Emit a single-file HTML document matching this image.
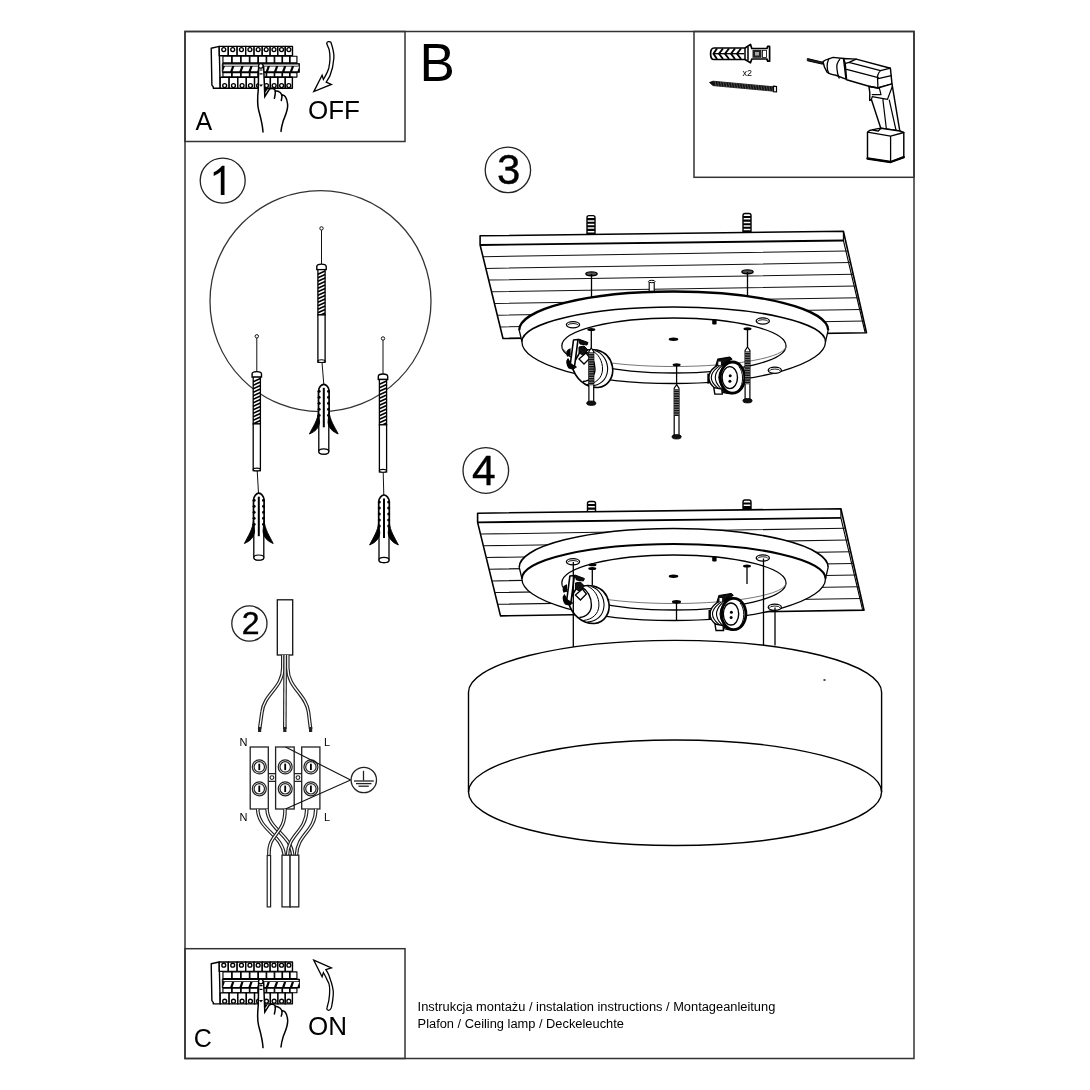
<!DOCTYPE html>
<html><head><meta charset="utf-8">
<style>
html,body{margin:0;padding:0;background:#fff;}
body{width:1090px;height:1090px;overflow:hidden;}
svg{display:block;will-change:transform;}
text{font-family:"Liberation Sans",sans-serif;fill:#000;}
</style></head><body>
<svg width="1090" height="1090" viewBox="0 0 1090 1090">
<rect width="1090" height="1090" fill="#fff"/>
<g fill="none" stroke="#333" stroke-width="1.5">
<rect x="185" y="31.5" width="729" height="1027"/>
<rect x="185" y="31.5" width="220" height="110"/>
<rect x="185" y="948.7" width="220" height="109.8"/>
<rect x="694" y="31.5" width="220" height="145.8"/>
</g>
<text x="419.4" y="80.8" font-size="53">B</text>
<text x="195.5" y="129.9" font-size="25">A</text>
<text x="308" y="118.6" font-size="26">OFF</text>
<text x="193.8" y="1046.7" font-size="25">C</text>
<text x="308" y="1035" font-size="26">ON</text>
<text x="417.6" y="1010.7" font-size="12.85">Instrukcja montażu / instalation instructions / Montageanleitung</text>
<text x="417.6" y="1027.7" font-size="12.85">Plafon / Ceiling lamp / Deckeleuchte</text>
<text x="742.5" y="76" font-size="9" fill="#222">x2</text>
<g fill="none" stroke="#222" stroke-width="1.3">
<circle cx="222.7" cy="180.6" r="22.5"/>
<circle cx="249.4" cy="623.5" r="17.6"/>
<circle cx="507.9" cy="169.9" r="22.7"/>
<circle cx="485.8" cy="470.5" r="22.8"/>
</g>
<path d="M224.5,194.9 L220.8,194.9 L220.8,171.6 C218.8,173.6 216.2,175.1 213.7,176 L213.7,172.3 C217.2,170.8 220.3,168.2 222,165.8 L224.5,165.8 Z" fill="#000"/>
<text x="250.6" y="633.9" font-size="32" text-anchor="middle" stroke="#000" stroke-width="0.4">2</text>
<text x="508.7" y="184.2" font-size="42" text-anchor="middle" stroke="#000" stroke-width="0.4">3</text>
<text x="483.7" y="484.6" font-size="42.5" text-anchor="middle" stroke="#000" stroke-width="0.4">4</text>
<circle cx="320.5" cy="301.2" r="110.5" fill="none" stroke="#333" stroke-width="1.3"/>
<circle cx="321.5" cy="228.4" r="1.7" fill="#fff" stroke="#111" stroke-width="1"/>
<line x1="321.5" y1="230.1" x2="321.5" y2="264.1" stroke="#111" stroke-width="1"/>
<path d="M316.8,269.6 L316.8,266.6 Q316.8,264.1 321.5,264.1 Q326.2,264.1 326.2,266.6 L326.2,269.6 Z" fill="#fff" stroke="#000" stroke-width="1.4"/>
<rect x="317.9" y="269.6" width="7.2" height="45.3" fill="#fff" stroke="#000" stroke-width="1.3"/>
<path d="M317.9,274.3 L325.1,271.1 M317.9,277.8 L325.1,274.6 M317.9,281.3 L325.1,278.1 M317.9,284.8 L325.1,281.6 M317.9,288.3 L325.1,285.1 M317.9,291.8 L325.1,288.6 M317.9,295.3 L325.1,292.1 M317.9,298.8 L325.1,295.6 M317.9,302.3 L325.1,299.1 M317.9,305.8 L325.1,302.6 M317.9,309.3 L325.1,306.1 M317.9,312.8 L325.1,309.6 M317.9,316.3 L325.1,313.1" stroke="#000" stroke-width="1.6" fill="none"/>
<rect x="317.9" y="314.9" width="7.2" height="47.4" fill="#fff" stroke="#000" stroke-width="1.3"/>
<ellipse cx="321.5" cy="361.1" rx="3.6" ry="1.4" fill="#fff" stroke="#000" stroke-width="1.1"/>
<line x1="322" y1="362.3" x2="323.8" y2="384.3" stroke="#111" stroke-width="1"/>
<path d="M318.8,420 L318.8,451.5 A5,2.6 0 0 0 328.8,451.5 L328.8,420" fill="#fff" stroke="#000" stroke-width="1.3"/>
<ellipse cx="323.8" cy="451.5" rx="5" ry="2.6" fill="#fff" stroke="#000" stroke-width="1.2"/>
<path d="M318.5,419.3 L318.5,391.3 C318.5,387.3 321.6,384.3 323.8,384.3 C326,384.3 329.1,387.3 329.1,391.3 L329.1,419.3 Z" fill="#fff" stroke="none"/>
<path d="M318.5,419.3 L318.5,391.3 C318.5,387.3 321.6,384.3 323.8,384.3 C326,384.3 329.1,387.3 329.1,391.3 L329.1,419.3" fill="none" stroke="#000" stroke-width="1.7"/>
<path d="M318.5,411.3 C317.9,420.3 312.8,427 309.4,434 C315.3,431.5 319,428 319.6,422.3 Z" fill="#000" stroke="#000" stroke-width="0.9" stroke-linejoin="round"/>
<path d="M329.1,411.3 C329.7,420.3 334.8,427 338.2,434 C332.3,431.5 328.6,428 328,422.3 Z" fill="#000" stroke="#000" stroke-width="0.9" stroke-linejoin="round"/>
<g fill="#000"><circle cx="319.1" cy="391.3" r="1.5"/><circle cx="328.5" cy="391.3" r="1.5"/><circle cx="319.1" cy="397.3" r="1.5"/><circle cx="328.5" cy="397.3" r="1.5"/><circle cx="319.1" cy="403.3" r="1.5"/><circle cx="328.5" cy="403.3" r="1.5"/><circle cx="319.1" cy="409.3" r="1.5"/><circle cx="328.5" cy="409.3" r="1.5"/><circle cx="319.1" cy="415.3" r="1.5"/><circle cx="328.5" cy="415.3" r="1.5"/></g>
<line x1="323.8" y1="387.8" x2="323.8" y2="427.3" stroke="#000" stroke-width="2"/>
<circle cx="256.8" cy="336.3" r="1.7" fill="#fff" stroke="#111" stroke-width="1"/>
<line x1="256.8" y1="338" x2="256.8" y2="371.6" stroke="#111" stroke-width="1"/>
<path d="M252.1,377.1 L252.1,374.1 Q252.1,371.6 256.8,371.6 Q261.5,371.6 261.5,374.1 L261.5,377.1 Z" fill="#fff" stroke="#000" stroke-width="1.4"/>
<rect x="253.2" y="377.1" width="7.2" height="46.8" fill="#fff" stroke="#000" stroke-width="1.3"/>
<path d="M253.2,381.8 L260.4,378.6 M253.2,385.3 L260.4,382.1 M253.2,388.8 L260.4,385.6 M253.2,392.3 L260.4,389.1 M253.2,395.8 L260.4,392.6 M253.2,399.3 L260.4,396.1 M253.2,402.8 L260.4,399.6 M253.2,406.3 L260.4,403.1 M253.2,409.8 L260.4,406.6 M253.2,413.3 L260.4,410.1 M253.2,416.8 L260.4,413.6 M253.2,420.3 L260.4,417.1 M253.2,423.8 L260.4,420.6" stroke="#000" stroke-width="1.6" fill="none"/>
<rect x="253.2" y="423.9" width="7.2" height="46.8" fill="#fff" stroke="#000" stroke-width="1.3"/>
<ellipse cx="256.8" cy="469.5" rx="3.6" ry="1.4" fill="#fff" stroke="#000" stroke-width="1.1"/>
<line x1="257.2" y1="470.7" x2="258.5" y2="493.2" stroke="#111" stroke-width="1"/>
<path d="M253.8,529.5 L253.8,557.6 A5,2.6 0 0 0 263.8,557.6 L263.8,529.5" fill="#fff" stroke="#000" stroke-width="1.3"/>
<ellipse cx="258.8" cy="557.6" rx="5" ry="2.6" fill="#fff" stroke="#000" stroke-width="1.2"/>
<path d="M253.5,528.2 L253.5,500.2 C253.5,496.2 256.6,493.2 258.8,493.2 C261,493.2 264.1,496.2 264.1,500.2 L264.1,528.2 Z" fill="#fff" stroke="none"/>
<path d="M253.5,528.2 L253.5,500.2 C253.5,496.2 256.6,493.2 258.8,493.2 C261,493.2 264.1,496.2 264.1,500.2 L264.1,528.2" fill="none" stroke="#000" stroke-width="1.7"/>
<path d="M253.5,520.2 C252.9,529.2 247.8,536.5 244.4,543.5 C250.3,541 254,537.5 254.6,531.2 Z" fill="#000" stroke="#000" stroke-width="0.9" stroke-linejoin="round"/>
<path d="M264.1,520.2 C264.7,529.2 269.8,536.5 273.2,543.5 C267.3,541 263.6,537.5 263,531.2 Z" fill="#000" stroke="#000" stroke-width="0.9" stroke-linejoin="round"/>
<g fill="#000"><circle cx="254.1" cy="500.2" r="1.5"/><circle cx="263.5" cy="500.2" r="1.5"/><circle cx="254.1" cy="506.2" r="1.5"/><circle cx="263.5" cy="506.2" r="1.5"/><circle cx="254.1" cy="512.2" r="1.5"/><circle cx="263.5" cy="512.2" r="1.5"/><circle cx="254.1" cy="518.2" r="1.5"/><circle cx="263.5" cy="518.2" r="1.5"/><circle cx="254.1" cy="524.2" r="1.5"/><circle cx="263.5" cy="524.2" r="1.5"/></g>
<line x1="258.8" y1="496.7" x2="258.8" y2="536.2" stroke="#000" stroke-width="2"/>
<circle cx="383" cy="338.5" r="1.7" fill="#fff" stroke="#111" stroke-width="1"/>
<line x1="383" y1="340.2" x2="383" y2="374" stroke="#111" stroke-width="1"/>
<path d="M378.3,379.5 L378.3,376.5 Q378.3,374 383,374 Q387.7,374 387.7,376.5 L387.7,379.5 Z" fill="#fff" stroke="#000" stroke-width="1.4"/>
<rect x="379.4" y="379.5" width="7.2" height="45.3" fill="#fff" stroke="#000" stroke-width="1.3"/>
<path d="M379.4,384.2 L386.6,381 M379.4,387.7 L386.6,384.5 M379.4,391.2 L386.6,388 M379.4,394.7 L386.6,391.5 M379.4,398.2 L386.6,395 M379.4,401.7 L386.6,398.5 M379.4,405.2 L386.6,402 M379.4,408.7 L386.6,405.5 M379.4,412.2 L386.6,409 M379.4,415.7 L386.6,412.5 M379.4,419.2 L386.6,416 M379.4,422.7 L386.6,419.5 M379.4,426.2 L386.6,423" stroke="#000" stroke-width="1.6" fill="none"/>
<rect x="379.4" y="424.8" width="7.2" height="47.2" fill="#fff" stroke="#000" stroke-width="1.3"/>
<ellipse cx="383" cy="470.8" rx="3.6" ry="1.4" fill="#fff" stroke="#000" stroke-width="1.1"/>
<line x1="383.2" y1="472" x2="383.8" y2="495" stroke="#111" stroke-width="1"/>
<path d="M379,531 L379,560 A5,2.6 0 0 0 389,560 L389,531" fill="#fff" stroke="#000" stroke-width="1.3"/>
<ellipse cx="384" cy="560" rx="5" ry="2.6" fill="#fff" stroke="#000" stroke-width="1.2"/>
<path d="M378.7,530 L378.7,502 C378.7,498 381.8,495 384,495 C386.2,495 389.3,498 389.3,502 L389.3,530 Z" fill="#fff" stroke="none"/>
<path d="M378.7,530 L378.7,502 C378.7,498 381.8,495 384,495 C386.2,495 389.3,498 389.3,502 L389.3,530" fill="none" stroke="#000" stroke-width="1.7"/>
<path d="M378.7,522 C378.1,531 373,538 369.6,545 C375.5,542.5 379.2,539 379.8,533 Z" fill="#000" stroke="#000" stroke-width="0.9" stroke-linejoin="round"/>
<path d="M389.3,522 C389.9,531 395,538 398.4,545 C392.5,542.5 388.8,539 388.2,533 Z" fill="#000" stroke="#000" stroke-width="0.9" stroke-linejoin="round"/>
<g fill="#000"><circle cx="379.3" cy="502" r="1.5"/><circle cx="388.7" cy="502" r="1.5"/><circle cx="379.3" cy="508" r="1.5"/><circle cx="388.7" cy="508" r="1.5"/><circle cx="379.3" cy="514" r="1.5"/><circle cx="388.7" cy="514" r="1.5"/><circle cx="379.3" cy="520" r="1.5"/><circle cx="388.7" cy="520" r="1.5"/><circle cx="379.3" cy="526" r="1.5"/><circle cx="388.7" cy="526" r="1.5"/></g>
<line x1="384" y1="498.5" x2="384" y2="538" stroke="#000" stroke-width="2"/>
<rect x="277.3" y="599.8" width="15.4" height="55.2" fill="#fff" stroke="#111" stroke-width="1.3"/>
<path d="M282.8,655 L282.8,668 C282.8,688 264,694 262,712 L259.6,729" fill="none" stroke="#222" stroke-width="3.6" stroke-linecap="butt"/><path d="M282.8,655 L282.8,668 C282.8,688 264,694 262,712 L259.6,729" fill="none" stroke="#fff" stroke-width="1.3"/>
<path d="M285.2,655 L284.8,729" fill="none" stroke="#222" stroke-width="3.6" stroke-linecap="butt"/><path d="M285.2,655 L284.8,729" fill="none" stroke="#fff" stroke-width="1.3"/>
<path d="M287.8,655 L287.8,668 C287.8,688 306,694 308.5,712 L310.6,729" fill="none" stroke="#222" stroke-width="3.6" stroke-linecap="butt"/><path d="M287.8,655 L287.8,668 C287.8,688 306,694 308.5,712 L310.6,729" fill="none" stroke="#fff" stroke-width="1.3"/>
<g fill="#222"><rect x="258" y="727" width="3.2" height="5"/><rect x="283.2" y="727" width="3.2" height="5"/><rect x="309" y="727" width="3.2" height="5"/></g>
<text x="243.5" y="746.2" font-size="11" text-anchor="middle">N</text><text x="327" y="746.2" font-size="11" text-anchor="middle">L</text>
<text x="243.5" y="820.7" font-size="11" text-anchor="middle">N</text><text x="327" y="820.7" font-size="11" text-anchor="middle">L</text>
<rect x="250.2" y="747" width="18.1" height="62" fill="#fff" stroke="#222" stroke-width="1.3"/><rect x="275.6" y="747" width="18.6" height="62" fill="#fff" stroke="#222" stroke-width="1.3"/><rect x="301.7" y="747" width="18.2" height="62" fill="#fff" stroke="#222" stroke-width="1.3"/><path d="M268.3,773.7 L275.6,773.7 M268.3,781.4 L275.6,781.4" fill="none" stroke="#222" stroke-width="1.2"/><circle cx="271.95" cy="777.6" r="1.9" fill="#fff" stroke="#222" stroke-width="1.1"/><path d="M294.2,773.7 L301.7,773.7 M294.2,781.4 L301.7,781.4" fill="none" stroke="#222" stroke-width="1.2"/><circle cx="297.95" cy="777.6" r="1.9" fill="#fff" stroke="#222" stroke-width="1.1"/><circle cx="259.3" cy="766.9" r="7" fill="#fff" stroke="#222" stroke-width="1.2"/><circle cx="259.3" cy="766.9" r="5.2" fill="none" stroke="#222" stroke-width="1.2"/><line x1="259.3" y1="763.7" x2="259.3" y2="770.1" stroke="#000" stroke-width="1.8"/><circle cx="259.3" cy="788.8" r="7" fill="#fff" stroke="#222" stroke-width="1.2"/><circle cx="259.3" cy="788.8" r="5.2" fill="none" stroke="#222" stroke-width="1.2"/><line x1="259.3" y1="785.6" x2="259.3" y2="792" stroke="#000" stroke-width="1.8"/><circle cx="285.2" cy="766.9" r="7" fill="#fff" stroke="#222" stroke-width="1.2"/><circle cx="285.2" cy="766.9" r="5.2" fill="none" stroke="#222" stroke-width="1.2"/><line x1="285.2" y1="763.7" x2="285.2" y2="770.1" stroke="#000" stroke-width="1.8"/><circle cx="285.2" cy="788.8" r="7" fill="#fff" stroke="#222" stroke-width="1.2"/><circle cx="285.2" cy="788.8" r="5.2" fill="none" stroke="#222" stroke-width="1.2"/><line x1="285.2" y1="785.6" x2="285.2" y2="792" stroke="#000" stroke-width="1.8"/><circle cx="310.9" cy="766.9" r="7" fill="#fff" stroke="#222" stroke-width="1.2"/><circle cx="310.9" cy="766.9" r="5.2" fill="none" stroke="#222" stroke-width="1.2"/><line x1="310.9" y1="763.7" x2="310.9" y2="770.1" stroke="#000" stroke-width="1.8"/><circle cx="310.9" cy="788.8" r="7" fill="#fff" stroke="#222" stroke-width="1.2"/><circle cx="310.9" cy="788.8" r="5.2" fill="none" stroke="#222" stroke-width="1.2"/><line x1="310.9" y1="785.6" x2="310.9" y2="792" stroke="#000" stroke-width="1.8"/>
<path d="M285.5,747 L350.6,780 L285.5,809" fill="none" stroke="#111" stroke-width="1.1"/>
<circle cx="363.8" cy="780" r="12.7" fill="#fff" stroke="#222" stroke-width="1.3"/>
<g stroke="#222" stroke-width="1.3"><line x1="363.5" y1="770.8" x2="363.5" y2="780.6"/><line x1="354" y1="781" x2="373.8" y2="781"/><line x1="356" y1="783.6" x2="371.5" y2="783.6"/><line x1="358.5" y1="786.2" x2="368.8" y2="786.2"/></g>
<path d="M257.7,809 C258,830 282,834 284.3,855" fill="none" stroke="#222" stroke-width="3.6" stroke-linecap="butt"/><path d="M257.7,809 C258,830 282,834 284.3,855" fill="none" stroke="#fff" stroke-width="1.3"/>
<path d="M267,809 C268,830 291,834 292.7,855" fill="none" stroke="#222" stroke-width="3.6" stroke-linecap="butt"/><path d="M267,809 C268,830 291,834 292.7,855" fill="none" stroke="#fff" stroke-width="1.3"/>
<path d="M285,809 C285.5,836 268,832 268.9,855" fill="none" stroke="#222" stroke-width="3.6" stroke-linecap="butt"/><path d="M285,809 C285.5,836 268,832 268.9,855" fill="none" stroke="#fff" stroke-width="1.3"/>
<path d="M306.8,809 C306.5,832 288,834 287.5,855" fill="none" stroke="#222" stroke-width="3.6" stroke-linecap="butt"/><path d="M306.8,809 C306.5,832 288,834 287.5,855" fill="none" stroke="#fff" stroke-width="1.3"/>
<path d="M315.8,809 C315.5,832 297,834 296.5,855" fill="none" stroke="#222" stroke-width="3.6" stroke-linecap="butt"/><path d="M315.8,809 C315.5,832 297,834 296.5,855" fill="none" stroke="#fff" stroke-width="1.3"/>
<rect x="267.2" y="855.5" width="3.4" height="51.4" fill="#fff" stroke="#222" stroke-width="1.2"/>
<rect x="282" y="855.2" width="8.1" height="51.7" fill="#fff" stroke="#222" stroke-width="1.3"/>
<rect x="290.1" y="855.2" width="8.7" height="51.7" fill="#fff" stroke="#222" stroke-width="1.3"/>
<path d="M587,234.5 L587,217.6 Q587,215.6 589,215.6 L593,215.6 Q595,215.6 595,217.6 L595,234.5 Z" fill="#fff" stroke="#000" stroke-width="1.4"/>
<path d="M587,219.1 L595,219.1 M587,222.7 L595,222.7 M587,226.3 L595,226.3 M587,229.9 L595,229.9 M587,233.5 L595,233.5" stroke="#000" stroke-width="2.1"/>
<path d="M743,232.5 L743,215.5 Q743,213.5 745,213.5 L749,213.5 Q751,213.5 751,215.5 L751,232.5 Z" fill="#fff" stroke="#000" stroke-width="1.4"/>
<path d="M743,217 L751,217 M743,220.6 L751,220.6 M743,224.2 L751,224.2 M743,227.8 L751,227.8 M743,231.4 L751,231.4" stroke="#000" stroke-width="2.1"/>
<path d="M480.1,235.8 L843.4,231.3 L866.5,332.7 L503,338.5 L480.1,245 L480.1,235.8 Z" fill="#fff" stroke="#000" stroke-width="1.6" stroke-linejoin="round"/>
<line x1="480.1" y1="245" x2="843.4" y2="240.5" stroke="#000" stroke-width="1.9"/>
<path d="M843.4,231.3 L843.4,240.5 L865.1,332.5" fill="none" stroke="#000" stroke-width="1.1"/>
<path d="M482.97,256.7 L847.87,250.9 M485.83,268.4 L850.53,262.6 M488.7,280.1 L853.2,274.3 M491.56,291.8 L855.86,286 M494.43,303.5 L858.53,297.7 M497.29,315.2 L861.19,309.4 M500.16,326.9 L863.86,321.1" stroke="#111" stroke-width="1.05" fill="none"/>
<ellipse cx="591.5" cy="273.8" rx="5.6" ry="1.9" fill="#555" stroke="#000" stroke-width="1.4"/><ellipse cx="747.5" cy="271.8" rx="5.6" ry="1.9" fill="#555" stroke="#000" stroke-width="1.4"/>
<line x1="591.5" y1="274" x2="591.5" y2="297" stroke="#000" stroke-width="1.3"/><line x1="747.5" y1="272" x2="747.5" y2="297" stroke="#000" stroke-width="1.3"/>
<path d="M649.2,291.5 L649.2,282 L654.2,282 L654.2,291.5" fill="#fff" stroke="#000" stroke-width="1.1"/><ellipse cx="651.7" cy="281.5" rx="3.3" ry="1.2" fill="#fff" stroke="#000" stroke-width="1"/>
<path d="M519.2,330.2 A154.5,38.7 0 0 1 828.2,330.2 L825.5,341.7 A151.8,41.8 0 0 1 521.9,341.7 Z" fill="#fff" stroke="none"/>
<path d="M519.2,330.2 A154.5,38.7 0 0 1 828.2,330.2" fill="none" stroke="#000" stroke-width="2.3"/>
<path d="M519.2,330.2 L521.9,341.7 M828.2,330.2 L825.5,341.7" fill="none" stroke="#000" stroke-width="1.3"/>
<path d="M521.9,341.7 A151.8,34.7 0 0 1 825.5,341.7" fill="none" stroke="#000" stroke-width="1.6"/>
<path d="M825.5,341.7 A151.8,41.8 0 0 1 521.9,341.7" fill="none" stroke="#000" stroke-width="1.3"/>
<path d="M561.8,346 A112.1,28 0 0 1 786,346 A112.1,27 0 0 1 561.8,346 Z" fill="none" stroke="#000" stroke-width="1.3"/>
<path d="M561.8,346 A112,20.5 0 0 0 786,346" fill="none" stroke="#666" stroke-width="0.9"/>
<ellipse cx="573" cy="324.8" rx="6.6" ry="3.1" fill="#fff" stroke="#000" stroke-width="1.3"/><path d="M567.8,325.4 A5,1.8 0 0 1 578.2,325.4" fill="none" stroke="#000" stroke-width="0.9"/>
<ellipse cx="762.8" cy="321" rx="6.6" ry="3.1" fill="#fff" stroke="#000" stroke-width="1.3"/><path d="M757.6,321.6 A5,1.8 0 0 1 768,321.6" fill="none" stroke="#000" stroke-width="0.9"/>
<ellipse cx="774.8" cy="370.3" rx="6.6" ry="3.1" fill="#fff" stroke="#000" stroke-width="1.3"/><path d="M769.6,370.9 A5,1.8 0 0 1 780,370.9" fill="none" stroke="#000" stroke-width="0.9"/>
<ellipse cx="673.5" cy="339.2" rx="4.8" ry="1.7" fill="#000"/>
<rect x="712.2" y="319.4" width="4.4" height="5" rx="1" fill="#000"/>
<g transform="translate(0,0)">
<path d="M572,366 C575,378 585,388 598,387.5 C608,387 614,377 612.5,367 C611,358 605,352 597,350 C590,349 584,350 580,352 Z" fill="#fff" stroke="#000" stroke-width="1.6"/>
<path d="M595,350.5 C603,353 608.5,362 607.5,371 C606.5,380 600,385.5 591,386" fill="none" stroke="#000" stroke-width="1.1"/>
<path d="M591,350.2 C598,353 603,361 602.5,370 C602,378 596,383.5 587,384.5" fill="none" stroke="#000" stroke-width="1.0"/>
<path d="M585,351 C591,354 595,361 595,369 C595,376 590,381 583,381.5" fill="none" stroke="#000" stroke-width="1.4"/>
<path d="M573.5,340 L578,339.5 L574.5,366.5 L570,366.5 Z" fill="#fff" stroke="#000" stroke-width="1.6" stroke-linejoin="round"/>
<path d="M578.5,339 L588,342.5 L587,345 L580,344 Z M579,347 L584,346 L588,350 L583,355 L579,353 Z" fill="#111" stroke="#000" stroke-width="1"/>
<path d="M570,349 C567,350 566,353 567.5,356 L570,355 Z M568,359 C566,361 567,366 569,368 L573,369 L576,367 L571,364 Z" fill="#000" stroke="#000" stroke-width="1.2"/>
<path d="M579,359 L586,353 L590,358 L584,364 Z" fill="#fff" stroke="#000" stroke-width="1.3"/>
</g>
<g transform="translate(730.8,377.6)">
<path d="M1,-16 C-12,-16 -22,-8 -22,0 C-22,8 -12,16 1,16 Z" fill="#fff" stroke="#000" stroke-width="1.4"/>
<path d="M-1,-14.8 C-10.73,-14.8 -19.5,-6 -19.5,0 C-19.5,6 -10.73,14.8 -1,14.8" fill="none" stroke="#000" stroke-width="1.1"/>
<path d="M-1,-14.8 C-8.53,-14.8 -15.5,-6 -15.5,0 C-15.5,6 -8.53,14.8 -1,14.8" fill="none" stroke="#000" stroke-width="1.1"/>
<path d="M-1,-14.8 C-6.6,-14.8 -12,-6 -12,0 C-12,6 -6.6,14.8 -1,14.8" fill="none" stroke="#000" stroke-width="1.1"/>
<path d="M-22.5,-4 L-22.5,6" stroke="#000" stroke-width="2"/>
<path d="M-15,-12 L-13,-18.5 L-1,-20.5 L1,-18.5 L-5,-15.5 L-8,-13 Z" fill="#111" stroke="#000" stroke-width="1.2" stroke-linejoin="round"/>
<rect x="-12.5" y="-16" width="2.6" height="3.6" fill="#fff"/>
<path d="M-17,10 L-9,11.5 L-8.5,16.5 L-16,16.5 Z" fill="#fff" stroke="#000" stroke-width="1.4"/>
<ellipse cx="1.7" cy="0" rx="12.2" ry="15.6" fill="#fff" stroke="#000" stroke-width="2.8"/>
<path d="M8,-11 C13,-6 13,7 8,12" fill="none" stroke="#000" stroke-width="1"/>
<ellipse cx="-1" cy="0" rx="7.7" ry="11" fill="#fff" stroke="#000" stroke-width="1.4"/>
<circle cx="-0.6" cy="-1.8" r="1.5" fill="#000"/><circle cx="-0.9" cy="3.6" r="1.5" fill="#000"/>
</g>
<ellipse cx="591.3" cy="329.5" rx="4" ry="1.5" fill="#000"/>
<line x1="591.3" y1="329.5" x2="591.3" y2="348" stroke="#000" stroke-width="1.3"/>
<path d="M591.3,348 L593.7,351.5 L593.7,403.2 L588.9,403.2 L588.9,351.5 Z" fill="#fff" stroke="#000" stroke-width="1.2"/>
<path d="M588.9,353.5 L593.7,353.5 M588.9,355.9 L593.7,355.9 M588.9,358.3 L593.7,358.3 M588.9,360.7 L593.7,360.7 M588.9,363.1 L593.7,363.1 M588.9,365.5 L593.7,365.5 M588.9,367.9 L593.7,367.9 M588.9,370.3 L593.7,370.3 M588.9,372.7 L593.7,372.7 M588.9,375.1 L593.7,375.1 M588.9,377.5 L593.7,377.5 M588.9,379.9 L593.7,379.9 M588.9,382.3 L593.7,382.3 M588.9,384.7 L593.7,384.7" stroke="#000" stroke-width="1.3"/>
<rect x="588.9" y="352.5" width="4.8" height="32.5" fill="#111"/>
<path d="M588.9,353.5 L593.7,353.5 M588.9,355.9 L593.7,355.9 M588.9,358.3 L593.7,358.3 M588.9,360.7 L593.7,360.7 M588.9,363.1 L593.7,363.1 M588.9,365.5 L593.7,365.5 M588.9,367.9 L593.7,367.9 M588.9,370.3 L593.7,370.3 M588.9,372.7 L593.7,372.7 M588.9,375.1 L593.7,375.1 M588.9,377.5 L593.7,377.5 M588.9,379.9 L593.7,379.9 M588.9,382.3 L593.7,382.3 M588.9,384.7 L593.7,384.7" stroke="#fff" stroke-width="0.6" opacity="0.8"/>
<ellipse cx="591.3" cy="403.2" rx="4.6" ry="2.2" fill="#111" stroke="#000" stroke-width="0.8"/>
<ellipse cx="676.6" cy="364.7" rx="4" ry="1.5" fill="#000"/>
<line x1="676.6" y1="364.7" x2="676.6" y2="384.7" stroke="#000" stroke-width="1.3"/>
<path d="M676.6,384.7 L679,388.2 L679,436.8 L674.2,436.8 L674.2,388.2 Z" fill="#fff" stroke="#000" stroke-width="1.2"/>
<path d="M674.2,390.2 L679,390.2 M674.2,392.6 L679,392.6 M674.2,395 L679,395 M674.2,397.4 L679,397.4 M674.2,399.8 L679,399.8 M674.2,402.2 L679,402.2 M674.2,404.6 L679,404.6 M674.2,407 L679,407 M674.2,409.4 L679,409.4 M674.2,411.8 L679,411.8 M674.2,414.2 L679,414.2" stroke="#000" stroke-width="1.3"/>
<rect x="674.2" y="389.2" width="4.8" height="26.8" fill="#111"/>
<path d="M674.2,390.2 L679,390.2 M674.2,392.6 L679,392.6 M674.2,395 L679,395 M674.2,397.4 L679,397.4 M674.2,399.8 L679,399.8 M674.2,402.2 L679,402.2 M674.2,404.6 L679,404.6 M674.2,407 L679,407 M674.2,409.4 L679,409.4 M674.2,411.8 L679,411.8 M674.2,414.2 L679,414.2" stroke="#fff" stroke-width="0.6" opacity="0.8"/>
<ellipse cx="676.6" cy="436.8" rx="4.6" ry="2.2" fill="#111" stroke="#000" stroke-width="0.8"/>
<ellipse cx="747.5" cy="328.8" rx="4" ry="1.5" fill="#000"/>
<line x1="747.5" y1="328.8" x2="747.5" y2="347" stroke="#000" stroke-width="1.3"/>
<path d="M747.5,347 L749.9,350.5 L749.9,400.7 L745.1,400.7 L745.1,350.5 Z" fill="#fff" stroke="#000" stroke-width="1.2"/>
<path d="M745.1,352.5 L749.9,352.5 M745.1,354.9 L749.9,354.9 M745.1,357.3 L749.9,357.3 M745.1,359.7 L749.9,359.7 M745.1,362.1 L749.9,362.1 M745.1,364.5 L749.9,364.5 M745.1,366.9 L749.9,366.9 M745.1,369.3 L749.9,369.3 M745.1,371.7 L749.9,371.7 M745.1,374.1 L749.9,374.1 M745.1,376.5 L749.9,376.5 M745.1,378.9 L749.9,378.9 M745.1,381.3 L749.9,381.3 M745.1,383.7 L749.9,383.7" stroke="#000" stroke-width="1.3"/>
<rect x="745.1" y="351.5" width="4.8" height="32.5" fill="#111"/>
<path d="M745.1,352.5 L749.9,352.5 M745.1,354.9 L749.9,354.9 M745.1,357.3 L749.9,357.3 M745.1,359.7 L749.9,359.7 M745.1,362.1 L749.9,362.1 M745.1,364.5 L749.9,364.5 M745.1,366.9 L749.9,366.9 M745.1,369.3 L749.9,369.3 M745.1,371.7 L749.9,371.7 M745.1,374.1 L749.9,374.1 M745.1,376.5 L749.9,376.5 M745.1,378.9 L749.9,378.9 M745.1,381.3 L749.9,381.3 M745.1,383.7 L749.9,383.7" stroke="#fff" stroke-width="0.6" opacity="0.8"/>
<ellipse cx="747.5" cy="400.7" rx="4.6" ry="2.2" fill="#111" stroke="#000" stroke-width="0.8"/>
<path d="M587.5,512.5 L587.5,503.5 Q587.5,501.5 589.5,501.5 L593.5,501.5 Q595.5,501.5 595.5,503.5 L595.5,512.5 Z" fill="#fff" stroke="#000" stroke-width="1.4"/>
<path d="M587.5,505 L595.5,505 M587.5,508.6 L595.5,508.6" stroke="#000" stroke-width="2.1"/>
<path d="M743,508.5 L743,502 Q743,500 745,500 L749,500 Q751,500 751,502 L751,508.5 Z" fill="#fff" stroke="#000" stroke-width="1.4"/>
<path d="M743,503.5 L751,503.5 M743,507.1 L751,507.1" stroke="#000" stroke-width="2.1"/>
<path d="M477.6,513.2 L840.9,508.7 L864,610.1 L500.5,615.9 L477.6,522.4 L477.6,513.2 Z" fill="#fff" stroke="#000" stroke-width="1.6" stroke-linejoin="round"/>
<line x1="477.6" y1="522.4" x2="840.9" y2="517.9" stroke="#000" stroke-width="1.9"/>
<path d="M840.9,508.7 L840.9,517.9 L862.6,609.9" fill="none" stroke="#000" stroke-width="1.1"/>
<path d="M480.47,534.1 L845.37,528.3 M483.33,545.8 L848.03,540 M486.2,557.5 L850.7,551.7 M489.06,569.2 L853.36,563.4 M491.93,580.9 L856.03,575.1 M494.79,592.6 L858.69,586.8 M497.66,604.3 L861.36,598.5" stroke="#111" stroke-width="1.05" fill="none"/>
<path d="M519.2,567.2 A154.5,38.7 0 0 1 828.2,567.2 L825.5,578.7 A151.8,41.8 0 0 1 521.9,578.7 Z" fill="#fff" stroke="none"/>
<path d="M519.2,567.2 A154.5,38.7 0 0 1 828.2,567.2" fill="none" stroke="#000" stroke-width="1.6"/>
<path d="M519.2,567.2 L521.9,578.7 M828.2,567.2 L825.5,578.7" fill="none" stroke="#000" stroke-width="1.3"/>
<path d="M521.9,578.7 A151.8,34.7 0 0 1 825.5,578.7" fill="none" stroke="#000" stroke-width="2.1"/>
<path d="M825.5,578.7 A151.8,41.8 0 0 1 521.9,578.7" fill="none" stroke="#000" stroke-width="1.3"/>
<path d="M561.8,583 A112.1,28 0 0 1 786,583 A112.1,27 0 0 1 561.8,583 Z" fill="none" stroke="#000" stroke-width="1.3"/>
<path d="M561.8,583 A112,20.5 0 0 0 786,583" fill="none" stroke="#666" stroke-width="0.9"/>
<ellipse cx="573" cy="561.8" rx="6.6" ry="3.1" fill="#fff" stroke="#000" stroke-width="1.3"/><path d="M567.8,562.4 A5,1.8 0 0 1 578.2,562.4" fill="none" stroke="#000" stroke-width="0.9"/>
<ellipse cx="762.8" cy="558" rx="6.6" ry="3.1" fill="#fff" stroke="#000" stroke-width="1.3"/><path d="M757.6,558.6 A5,1.8 0 0 1 768,558.6" fill="none" stroke="#000" stroke-width="0.9"/>
<ellipse cx="774.8" cy="607.3" rx="6.6" ry="3.1" fill="#fff" stroke="#000" stroke-width="1.3"/><path d="M769.6,607.9 A5,1.8 0 0 1 780,607.9" fill="none" stroke="#000" stroke-width="0.9"/>
<ellipse cx="673.5" cy="576.2" rx="4.8" ry="1.7" fill="#000"/>
<rect x="712.2" y="556.4" width="4.4" height="5" rx="1" fill="#000"/>
<g transform="translate(-3.6,236)">
<path d="M572,366 C575,378 585,388 598,387.5 C608,387 614,377 612.5,367 C611,358 605,352 597,350 C590,349 584,350 580,352 Z" fill="#fff" stroke="#000" stroke-width="1.6"/>
<path d="M595,350.5 C603,353 608.5,362 607.5,371 C606.5,380 600,385.5 591,386" fill="none" stroke="#000" stroke-width="1.1"/>
<path d="M591,350.2 C598,353 603,361 602.5,370 C602,378 596,383.5 587,384.5" fill="none" stroke="#000" stroke-width="1.0"/>
<path d="M585,351 C591,354 595,361 595,369 C595,376 590,381 583,381.5" fill="none" stroke="#000" stroke-width="1.4"/>
<path d="M573.5,340 L578,339.5 L574.5,366.5 L570,366.5 Z" fill="#fff" stroke="#000" stroke-width="1.6" stroke-linejoin="round"/>
<path d="M578.5,339 L588,342.5 L587,345 L580,344 Z M579,347 L584,346 L588,350 L583,355 L579,353 Z" fill="#111" stroke="#000" stroke-width="1"/>
<path d="M570,349 C567,350 566,353 567.5,356 L570,355 Z M568,359 C566,361 567,366 569,368 L573,369 L576,367 L571,364 Z" fill="#000" stroke="#000" stroke-width="1.2"/>
<path d="M579,359 L586,353 L590,358 L584,364 Z" fill="#fff" stroke="#000" stroke-width="1.3"/>
</g>
<g transform="translate(732,614)">
<path d="M1,-16 C-12,-16 -22,-8 -22,0 C-22,8 -12,16 1,16 Z" fill="#fff" stroke="#000" stroke-width="1.4"/>
<path d="M-1,-14.8 C-10.73,-14.8 -19.5,-6 -19.5,0 C-19.5,6 -10.73,14.8 -1,14.8" fill="none" stroke="#000" stroke-width="1.1"/>
<path d="M-1,-14.8 C-8.53,-14.8 -15.5,-6 -15.5,0 C-15.5,6 -8.53,14.8 -1,14.8" fill="none" stroke="#000" stroke-width="1.1"/>
<path d="M-1,-14.8 C-6.6,-14.8 -12,-6 -12,0 C-12,6 -6.6,14.8 -1,14.8" fill="none" stroke="#000" stroke-width="1.1"/>
<path d="M-22.5,-4 L-22.5,6" stroke="#000" stroke-width="2"/>
<path d="M-15,-12 L-13,-18.5 L-1,-20.5 L1,-18.5 L-5,-15.5 L-8,-13 Z" fill="#111" stroke="#000" stroke-width="1.2" stroke-linejoin="round"/>
<rect x="-12.5" y="-16" width="2.6" height="3.6" fill="#fff"/>
<path d="M-17,10 L-9,11.5 L-8.5,16.5 L-16,16.5 Z" fill="#fff" stroke="#000" stroke-width="1.4"/>
<ellipse cx="1.7" cy="0" rx="12.2" ry="15.6" fill="#fff" stroke="#000" stroke-width="2.8"/>
<path d="M8,-11 C13,-6 13,7 8,12" fill="none" stroke="#000" stroke-width="1"/>
<ellipse cx="-1" cy="0" rx="7.7" ry="11" fill="#fff" stroke="#000" stroke-width="1.4"/>
<circle cx="-0.6" cy="-1.8" r="1.5" fill="#000"/><circle cx="-0.9" cy="3.6" r="1.5" fill="#000"/>
</g>
<ellipse cx="592.5" cy="564.8" rx="4" ry="1.5" fill="#000"/><ellipse cx="592.3" cy="568.4" rx="4" ry="1.5" fill="#000"/><line x1="592.3" y1="568.4" x2="592.3" y2="585" stroke="#000" stroke-width="1.3"/>
<ellipse cx="747" cy="566" rx="4" ry="1.6" fill="#000"/><line x1="747" y1="566" x2="747" y2="584" stroke="#000" stroke-width="1.3"/>
<ellipse cx="676.5" cy="601.8" rx="4.6" ry="1.9" fill="#000"/><line x1="676.5" y1="601.8" x2="676.5" y2="620" stroke="#000" stroke-width="1.3"/>
<path d="M573.3,562 L573.3,647 M763.5,558.5 L763.5,645 M775,607.5 L775,645.5" stroke="#000" stroke-width="1.3" fill="none"/>
<path d="M468.5,692.3 A206.55,52 0 0 1 881.6,692.3 L881.6,791.9 A206.55,53.6 0 0 1 468.5,791.9 Z" fill="#fff" stroke="#000" stroke-width="1.4"/>
<path d="M468.5,791.9 A206.55,52 0 0 1 881.6,791.9" fill="none" stroke="#000" stroke-width="1.4"/>
<ellipse cx="824.5" cy="680" rx="1.3" ry="0.8" fill="#000"/>
<path d="M211.2,48.2 L219.2,46.4 L220.2,88.3 L213.3,88.3 L213.3,87 L211.9,85.1 Z" fill="#fff" stroke="#000" stroke-width="1.4" stroke-linejoin="round"/><path d="M219.24,46.4 L228.3,46.4 L228.3,55.8 L219.24,55.8 Z" fill="#fff" stroke="#000" stroke-width="1.4" stroke-linejoin="round"/><circle cx="223.77" cy="49.6" r="1.95" fill="#fff" stroke="#000" stroke-width="1.35"/><path d="M228.3,46.4 L237.13,46.4 L237.13,55.8 L228.3,55.8 Z" fill="#fff" stroke="#000" stroke-width="1.4" stroke-linejoin="round"/><circle cx="232.72" cy="49.6" r="1.95" fill="#fff" stroke="#000" stroke-width="1.35"/><path d="M237.13,46.4 L245.73,46.4 L245.73,55.8 L237.13,55.8 Z" fill="#fff" stroke="#000" stroke-width="1.4" stroke-linejoin="round"/><circle cx="241.43" cy="49.6" r="1.95" fill="#fff" stroke="#000" stroke-width="1.35"/><path d="M245.73,46.4 L254.1,46.4 L254.1,55.8 L245.73,55.8 Z" fill="#fff" stroke="#000" stroke-width="1.4" stroke-linejoin="round"/><circle cx="249.92" cy="49.6" r="1.95" fill="#fff" stroke="#000" stroke-width="1.35"/><path d="M254.1,46.4 L262.24,46.4 L262.24,55.8 L254.1,55.8 Z" fill="#fff" stroke="#000" stroke-width="1.4" stroke-linejoin="round"/><circle cx="258.17" cy="49.6" r="1.95" fill="#fff" stroke="#000" stroke-width="1.35"/><path d="M262.24,46.4 L270.15,46.4 L270.15,55.8 L262.24,55.8 Z" fill="#fff" stroke="#000" stroke-width="1.4" stroke-linejoin="round"/><circle cx="266.19" cy="49.6" r="1.95" fill="#fff" stroke="#000" stroke-width="1.35"/><path d="M270.15,46.4 L277.82,46.4 L277.82,55.8 L270.15,55.8 Z" fill="#fff" stroke="#000" stroke-width="1.4" stroke-linejoin="round"/><circle cx="273.98" cy="49.6" r="1.95" fill="#fff" stroke="#000" stroke-width="1.35"/><path d="M277.82,46.4 L285.27,46.4 L285.27,55.8 L277.82,55.8 Z" fill="#fff" stroke="#000" stroke-width="1.4" stroke-linejoin="round"/><circle cx="281.54" cy="49.6" r="1.95" fill="#fff" stroke="#000" stroke-width="1.35"/><path d="M285.27,46.4 L292.48,46.4 L292.48,55.8 L285.27,55.8 Z" fill="#fff" stroke="#000" stroke-width="1.4" stroke-linejoin="round"/><circle cx="288.87" cy="49.6" r="1.95" fill="#fff" stroke="#000" stroke-width="1.35"/><path d="M222.95,56.2 L231.67,56.2 L231.67,62.9 L222.95,62.9 Z" fill="#fff" stroke="#000" stroke-width="1.15" stroke-linejoin="round"/><path d="M232.17,56.2 L240.65,56.2 L240.65,62.9 L232.17,62.9 Z" fill="#fff" stroke="#000" stroke-width="1.15" stroke-linejoin="round"/><path d="M241.15,56.2 L249.39,56.2 L249.39,62.9 L241.15,62.9 Z" fill="#fff" stroke="#000" stroke-width="1.15" stroke-linejoin="round"/><path d="M249.89,56.2 L257.9,56.2 L257.9,62.9 L249.89,62.9 Z" fill="#fff" stroke="#000" stroke-width="1.15" stroke-linejoin="round"/><path d="M258.4,56.2 L266.18,56.2 L266.18,62.9 L258.4,62.9 Z" fill="#fff" stroke="#000" stroke-width="1.15" stroke-linejoin="round"/><path d="M266.68,56.2 L274.22,56.2 L274.22,62.9 L266.68,62.9 Z" fill="#fff" stroke="#000" stroke-width="1.15" stroke-linejoin="round"/><path d="M274.72,56.2 L282.02,56.2 L282.02,62.9 L274.72,62.9 Z" fill="#fff" stroke="#000" stroke-width="1.15" stroke-linejoin="round"/><path d="M282.52,56.2 L289.59,56.2 L289.59,62.9 L282.52,62.9 Z" fill="#fff" stroke="#000" stroke-width="1.15" stroke-linejoin="round"/><path d="M290.09,56.2 L296.93,56.2 L296.93,62.9 L290.09,62.9 Z" fill="#fff" stroke="#000" stroke-width="1.15" stroke-linejoin="round"/><path d="M222.3,63.5 L299.5,63.5 L299.5,72.4 L222.3,72.4 Z" fill="#000" stroke="#000" stroke-width="0.8" stroke-linejoin="round"/><path d="M223.5,65.1 L298.5,65.1" stroke="#fff" stroke-width="1.3"/><path d="M224.8,66.4 L232,66.4 L230.2,71.3 L223.1,71.3 Z" fill="#fff"/><path d="M234.3,66.4 L241.26,66.4 L239.46,71.3 L232.6,71.3 Z" fill="#fff"/><path d="M243.56,66.4 L250.27,66.4 L248.47,71.3 L241.86,71.3 Z" fill="#fff"/><path d="M252.57,66.4 L259.05,66.4 L257.25,71.3 L250.87,71.3 Z" fill="#fff"/><path d="M261.35,66.4 L267.58,66.4 L265.78,71.3 L259.65,71.3 Z" fill="#fff"/><path d="M269.88,66.4 L275.87,66.4 L274.07,71.3 L268.18,71.3 Z" fill="#fff"/><path d="M278.17,66.4 L283.91,66.4 L282.11,71.3 L276.47,71.3 Z" fill="#fff"/><path d="M286.21,66.4 L291.72,66.4 L289.92,71.3 L284.51,71.3 Z" fill="#fff"/><path d="M294.02,66.4 L299.28,66.4 L297.48,71.3 L292.32,71.3 Z" fill="#fff"/><path d="M222.95,72.6 L231.67,72.6 L231.67,77.1 L222.95,77.1 Z" fill="#fff" stroke="#000" stroke-width="1.15" stroke-linejoin="round"/><path d="M232.17,72.6 L240.65,72.6 L240.65,77.1 L232.17,77.1 Z" fill="#fff" stroke="#000" stroke-width="1.15" stroke-linejoin="round"/><path d="M241.15,72.6 L249.39,72.6 L249.39,77.1 L241.15,77.1 Z" fill="#fff" stroke="#000" stroke-width="1.15" stroke-linejoin="round"/><path d="M249.89,72.6 L257.9,72.6 L257.9,77.1 L249.89,77.1 Z" fill="#fff" stroke="#000" stroke-width="1.15" stroke-linejoin="round"/><path d="M258.4,72.6 L266.18,72.6 L266.18,77.1 L258.4,77.1 Z" fill="#fff" stroke="#000" stroke-width="1.15" stroke-linejoin="round"/><path d="M266.68,72.6 L274.22,72.6 L274.22,77.1 L266.68,77.1 Z" fill="#fff" stroke="#000" stroke-width="1.15" stroke-linejoin="round"/><path d="M274.72,72.6 L282.02,72.6 L282.02,77.1 L274.72,77.1 Z" fill="#fff" stroke="#000" stroke-width="1.15" stroke-linejoin="round"/><path d="M282.52,72.6 L289.59,72.6 L289.59,77.1 L282.52,77.1 Z" fill="#fff" stroke="#000" stroke-width="1.15" stroke-linejoin="round"/><path d="M290.09,72.6 L296.93,72.6 L296.93,77.1 L290.09,77.1 Z" fill="#fff" stroke="#000" stroke-width="1.15" stroke-linejoin="round"/><path d="M220.2,77.3 L229.13,77.3 L229.13,88.3 L220.2,88.3 Z" fill="#fff" stroke="#000" stroke-width="1.4" stroke-linejoin="round"/><circle cx="224.67" cy="85.6" r="1.95" fill="#fff" stroke="#000" stroke-width="1.35"/><path d="M229.13,77.3 L237.83,77.3 L237.83,88.3 L229.13,88.3 Z" fill="#fff" stroke="#000" stroke-width="1.4" stroke-linejoin="round"/><circle cx="233.48" cy="85.6" r="1.95" fill="#fff" stroke="#000" stroke-width="1.35"/><path d="M237.83,77.3 L246.31,77.3 L246.31,88.3 L237.83,88.3 Z" fill="#fff" stroke="#000" stroke-width="1.4" stroke-linejoin="round"/><circle cx="242.07" cy="85.6" r="1.95" fill="#fff" stroke="#000" stroke-width="1.35"/><path d="M246.31,77.3 L254.56,77.3 L254.56,88.3 L246.31,88.3 Z" fill="#fff" stroke="#000" stroke-width="1.4" stroke-linejoin="round"/><circle cx="250.43" cy="85.6" r="1.95" fill="#fff" stroke="#000" stroke-width="1.35"/><path d="M254.56,77.3 L262.58,77.3 L262.58,88.3 L254.56,88.3 Z" fill="#fff" stroke="#000" stroke-width="1.4" stroke-linejoin="round"/><circle cx="258.57" cy="85.6" r="1.95" fill="#fff" stroke="#000" stroke-width="1.35"/><path d="M262.58,77.3 L270.37,77.3 L270.37,88.3 L262.58,88.3 Z" fill="#fff" stroke="#000" stroke-width="1.4" stroke-linejoin="round"/><circle cx="266.47" cy="85.6" r="1.95" fill="#fff" stroke="#000" stroke-width="1.35"/><path d="M270.37,77.3 L277.93,77.3 L277.93,88.3 L270.37,88.3 Z" fill="#fff" stroke="#000" stroke-width="1.4" stroke-linejoin="round"/><circle cx="274.15" cy="85.6" r="1.95" fill="#fff" stroke="#000" stroke-width="1.35"/><path d="M277.93,77.3 L285.27,77.3 L285.27,88.3 L277.93,88.3 Z" fill="#fff" stroke="#000" stroke-width="1.4" stroke-linejoin="round"/><circle cx="281.6" cy="85.6" r="1.95" fill="#fff" stroke="#000" stroke-width="1.35"/><path d="M285.27,77.3 L292.38,77.3 L292.38,88.3 L285.27,88.3 Z" fill="#fff" stroke="#000" stroke-width="1.4" stroke-linejoin="round"/><circle cx="288.82" cy="85.6" r="1.95" fill="#fff" stroke="#000" stroke-width="1.35"/>
<g transform="translate(0,0)">
<path d="M263,132 C262.6,124 260.5,117 258.6,110 C257,104 257.6,96 258.3,89 L258.6,67.5 C258.6,64.5 263.7,64.5 263.7,67.5 L264.8,96.5 L269.2,89.5 C271,88 280,89 283,94 C287,95 288.3,99 287.6,104 C288.3,110 285,116 283.2,121 C282,125 281.2,128 281,131.4 Z" fill="#fff" stroke="none"/>
<path d="M263,132 C262.6,124 260.5,117 258.6,110 C257,104 257.6,96 258.3,89 L258.6,67.5 C258.6,64.5 263.7,64.5 263.7,67.5 L264.8,96.5 L269.2,89.5 C270.5,88.2 273.5,88.2 275,90 C276,92 274.8,96 274.4,98.3 M275,91.5 C276,90.5 280,91 281.7,94.6 C282.3,96.5 281.8,99 281.3,100.5 M281.7,95.2 C284,94.5 287,97 287.6,104 C288.3,110 285,116 283.2,121 C282,125 281.2,128 281,131.4" fill="none" stroke="#000" stroke-width="1.5" stroke-linecap="round"/>
<circle cx="260.8" cy="65.9" r="2.3" fill="#fff" stroke="#000" stroke-width="1.3"/>
<path d="M259.5,70 L262.5,70 M259.5,73.8 L262.5,73.8" stroke="#000" stroke-width="1.2"/>
<path d="M259,84.5 L263,84.5 L261,86.8 Z" fill="#000"/>
<path d="M264.8,89 L264.8,93 L268,89 Z" fill="#000"/>
</g>
<path d="M211.2,963.8 L219.2,962 L220.2,1003.9 L213.3,1003.9 L213.3,1002.6 L211.9,1000.7 Z" fill="#fff" stroke="#000" stroke-width="1.4" stroke-linejoin="round"/><path d="M219.24,962 L228.3,962 L228.3,971.4 L219.24,971.4 Z" fill="#fff" stroke="#000" stroke-width="1.4" stroke-linejoin="round"/><circle cx="223.77" cy="965.2" r="1.95" fill="#fff" stroke="#000" stroke-width="1.35"/><path d="M228.3,962 L237.13,962 L237.13,971.4 L228.3,971.4 Z" fill="#fff" stroke="#000" stroke-width="1.4" stroke-linejoin="round"/><circle cx="232.72" cy="965.2" r="1.95" fill="#fff" stroke="#000" stroke-width="1.35"/><path d="M237.13,962 L245.73,962 L245.73,971.4 L237.13,971.4 Z" fill="#fff" stroke="#000" stroke-width="1.4" stroke-linejoin="round"/><circle cx="241.43" cy="965.2" r="1.95" fill="#fff" stroke="#000" stroke-width="1.35"/><path d="M245.73,962 L254.1,962 L254.1,971.4 L245.73,971.4 Z" fill="#fff" stroke="#000" stroke-width="1.4" stroke-linejoin="round"/><circle cx="249.92" cy="965.2" r="1.95" fill="#fff" stroke="#000" stroke-width="1.35"/><path d="M254.1,962 L262.24,962 L262.24,971.4 L254.1,971.4 Z" fill="#fff" stroke="#000" stroke-width="1.4" stroke-linejoin="round"/><circle cx="258.17" cy="965.2" r="1.95" fill="#fff" stroke="#000" stroke-width="1.35"/><path d="M262.24,962 L270.15,962 L270.15,971.4 L262.24,971.4 Z" fill="#fff" stroke="#000" stroke-width="1.4" stroke-linejoin="round"/><circle cx="266.19" cy="965.2" r="1.95" fill="#fff" stroke="#000" stroke-width="1.35"/><path d="M270.15,962 L277.82,962 L277.82,971.4 L270.15,971.4 Z" fill="#fff" stroke="#000" stroke-width="1.4" stroke-linejoin="round"/><circle cx="273.98" cy="965.2" r="1.95" fill="#fff" stroke="#000" stroke-width="1.35"/><path d="M277.82,962 L285.27,962 L285.27,971.4 L277.82,971.4 Z" fill="#fff" stroke="#000" stroke-width="1.4" stroke-linejoin="round"/><circle cx="281.54" cy="965.2" r="1.95" fill="#fff" stroke="#000" stroke-width="1.35"/><path d="M285.27,962 L292.48,962 L292.48,971.4 L285.27,971.4 Z" fill="#fff" stroke="#000" stroke-width="1.4" stroke-linejoin="round"/><circle cx="288.87" cy="965.2" r="1.95" fill="#fff" stroke="#000" stroke-width="1.35"/><path d="M222.95,971.8 L231.67,971.8 L231.67,978.5 L222.95,978.5 Z" fill="#fff" stroke="#000" stroke-width="1.15" stroke-linejoin="round"/><path d="M232.17,971.8 L240.65,971.8 L240.65,978.5 L232.17,978.5 Z" fill="#fff" stroke="#000" stroke-width="1.15" stroke-linejoin="round"/><path d="M241.15,971.8 L249.39,971.8 L249.39,978.5 L241.15,978.5 Z" fill="#fff" stroke="#000" stroke-width="1.15" stroke-linejoin="round"/><path d="M249.89,971.8 L257.9,971.8 L257.9,978.5 L249.89,978.5 Z" fill="#fff" stroke="#000" stroke-width="1.15" stroke-linejoin="round"/><path d="M258.4,971.8 L266.18,971.8 L266.18,978.5 L258.4,978.5 Z" fill="#fff" stroke="#000" stroke-width="1.15" stroke-linejoin="round"/><path d="M266.68,971.8 L274.22,971.8 L274.22,978.5 L266.68,978.5 Z" fill="#fff" stroke="#000" stroke-width="1.15" stroke-linejoin="round"/><path d="M274.72,971.8 L282.02,971.8 L282.02,978.5 L274.72,978.5 Z" fill="#fff" stroke="#000" stroke-width="1.15" stroke-linejoin="round"/><path d="M282.52,971.8 L289.59,971.8 L289.59,978.5 L282.52,978.5 Z" fill="#fff" stroke="#000" stroke-width="1.15" stroke-linejoin="round"/><path d="M290.09,971.8 L296.93,971.8 L296.93,978.5 L290.09,978.5 Z" fill="#fff" stroke="#000" stroke-width="1.15" stroke-linejoin="round"/><path d="M222.3,979.1 L299.5,979.1 L299.5,988 L222.3,988 Z" fill="#000" stroke="#000" stroke-width="0.8" stroke-linejoin="round"/><path d="M223.5,980.7 L298.5,980.7" stroke="#fff" stroke-width="1.3"/><path d="M224.8,982 L232,982 L230.2,986.9 L223.1,986.9 Z" fill="#fff"/><path d="M234.3,982 L241.26,982 L239.46,986.9 L232.6,986.9 Z" fill="#fff"/><path d="M243.56,982 L250.27,982 L248.47,986.9 L241.86,986.9 Z" fill="#fff"/><path d="M252.57,982 L259.05,982 L257.25,986.9 L250.87,986.9 Z" fill="#fff"/><path d="M261.35,982 L267.58,982 L265.78,986.9 L259.65,986.9 Z" fill="#fff"/><path d="M269.88,982 L275.87,982 L274.07,986.9 L268.18,986.9 Z" fill="#fff"/><path d="M278.17,982 L283.91,982 L282.11,986.9 L276.47,986.9 Z" fill="#fff"/><path d="M286.21,982 L291.72,982 L289.92,986.9 L284.51,986.9 Z" fill="#fff"/><path d="M294.02,982 L299.28,982 L297.48,986.9 L292.32,986.9 Z" fill="#fff"/><path d="M222.95,988.2 L231.67,988.2 L231.67,992.7 L222.95,992.7 Z" fill="#fff" stroke="#000" stroke-width="1.15" stroke-linejoin="round"/><path d="M232.17,988.2 L240.65,988.2 L240.65,992.7 L232.17,992.7 Z" fill="#fff" stroke="#000" stroke-width="1.15" stroke-linejoin="round"/><path d="M241.15,988.2 L249.39,988.2 L249.39,992.7 L241.15,992.7 Z" fill="#fff" stroke="#000" stroke-width="1.15" stroke-linejoin="round"/><path d="M249.89,988.2 L257.9,988.2 L257.9,992.7 L249.89,992.7 Z" fill="#fff" stroke="#000" stroke-width="1.15" stroke-linejoin="round"/><path d="M258.4,988.2 L266.18,988.2 L266.18,992.7 L258.4,992.7 Z" fill="#fff" stroke="#000" stroke-width="1.15" stroke-linejoin="round"/><path d="M266.68,988.2 L274.22,988.2 L274.22,992.7 L266.68,992.7 Z" fill="#fff" stroke="#000" stroke-width="1.15" stroke-linejoin="round"/><path d="M274.72,988.2 L282.02,988.2 L282.02,992.7 L274.72,992.7 Z" fill="#fff" stroke="#000" stroke-width="1.15" stroke-linejoin="round"/><path d="M282.52,988.2 L289.59,988.2 L289.59,992.7 L282.52,992.7 Z" fill="#fff" stroke="#000" stroke-width="1.15" stroke-linejoin="round"/><path d="M290.09,988.2 L296.93,988.2 L296.93,992.7 L290.09,992.7 Z" fill="#fff" stroke="#000" stroke-width="1.15" stroke-linejoin="round"/><path d="M220.2,992.9 L229.13,992.9 L229.13,1003.9 L220.2,1003.9 Z" fill="#fff" stroke="#000" stroke-width="1.4" stroke-linejoin="round"/><circle cx="224.67" cy="1001.2" r="1.95" fill="#fff" stroke="#000" stroke-width="1.35"/><path d="M229.13,992.9 L237.83,992.9 L237.83,1003.9 L229.13,1003.9 Z" fill="#fff" stroke="#000" stroke-width="1.4" stroke-linejoin="round"/><circle cx="233.48" cy="1001.2" r="1.95" fill="#fff" stroke="#000" stroke-width="1.35"/><path d="M237.83,992.9 L246.31,992.9 L246.31,1003.9 L237.83,1003.9 Z" fill="#fff" stroke="#000" stroke-width="1.4" stroke-linejoin="round"/><circle cx="242.07" cy="1001.2" r="1.95" fill="#fff" stroke="#000" stroke-width="1.35"/><path d="M246.31,992.9 L254.56,992.9 L254.56,1003.9 L246.31,1003.9 Z" fill="#fff" stroke="#000" stroke-width="1.4" stroke-linejoin="round"/><circle cx="250.43" cy="1001.2" r="1.95" fill="#fff" stroke="#000" stroke-width="1.35"/><path d="M254.56,992.9 L262.58,992.9 L262.58,1003.9 L254.56,1003.9 Z" fill="#fff" stroke="#000" stroke-width="1.4" stroke-linejoin="round"/><circle cx="258.57" cy="1001.2" r="1.95" fill="#fff" stroke="#000" stroke-width="1.35"/><path d="M262.58,992.9 L270.37,992.9 L270.37,1003.9 L262.58,1003.9 Z" fill="#fff" stroke="#000" stroke-width="1.4" stroke-linejoin="round"/><circle cx="266.47" cy="1001.2" r="1.95" fill="#fff" stroke="#000" stroke-width="1.35"/><path d="M270.37,992.9 L277.93,992.9 L277.93,1003.9 L270.37,1003.9 Z" fill="#fff" stroke="#000" stroke-width="1.4" stroke-linejoin="round"/><circle cx="274.15" cy="1001.2" r="1.95" fill="#fff" stroke="#000" stroke-width="1.35"/><path d="M277.93,992.9 L285.27,992.9 L285.27,1003.9 L277.93,1003.9 Z" fill="#fff" stroke="#000" stroke-width="1.4" stroke-linejoin="round"/><circle cx="281.6" cy="1001.2" r="1.95" fill="#fff" stroke="#000" stroke-width="1.35"/><path d="M285.27,992.9 L292.38,992.9 L292.38,1003.9 L285.27,1003.9 Z" fill="#fff" stroke="#000" stroke-width="1.4" stroke-linejoin="round"/><circle cx="288.82" cy="1001.2" r="1.95" fill="#fff" stroke="#000" stroke-width="1.35"/>
<g transform="translate(0,915.6)">
<path d="M263,132 C262.6,124 260.5,117 258.6,110 C257,104 257.6,96 258.3,89 L258.6,67.5 C258.6,64.5 263.7,64.5 263.7,67.5 L264.8,96.5 L269.2,89.5 C271,88 280,89 283,94 C287,95 288.3,99 287.6,104 C288.3,110 285,116 283.2,121 C282,125 281.2,128 281,131.4 Z" fill="#fff" stroke="none"/>
<path d="M263,132 C262.6,124 260.5,117 258.6,110 C257,104 257.6,96 258.3,89 L258.6,67.5 C258.6,64.5 263.7,64.5 263.7,67.5 L264.8,96.5 L269.2,89.5 C270.5,88.2 273.5,88.2 275,90 C276,92 274.8,96 274.4,98.3 M275,91.5 C276,90.5 280,91 281.7,94.6 C282.3,96.5 281.8,99 281.3,100.5 M281.7,95.2 C284,94.5 287,97 287.6,104 C288.3,110 285,116 283.2,121 C282,125 281.2,128 281,131.4" fill="none" stroke="#000" stroke-width="1.5" stroke-linecap="round"/>
<circle cx="260.8" cy="65.9" r="2.3" fill="#fff" stroke="#000" stroke-width="1.3"/>
<path d="M259.5,70 L262.5,70 M259.5,73.8 L262.5,73.8" stroke="#000" stroke-width="1.2"/>
<path d="M259,84.5 L263,84.5 L261,86.8 Z" fill="#000"/>
<path d="M264.8,89 L264.8,93 L268,89 Z" fill="#000"/>
</g>
<path d="M326.7,43.2 C327,41.5 329.5,41 330.9,42.3 C332.5,47 334.2,53 333.9,58 C333.5,64 332.8,69 329.8,76.2 L326.2,82.2 L331.4,84.4 L313.8,91.6 L322.1,75.3 L323.4,79.5 C326,75 328.3,70 328.8,68 C330.5,60 330.3,55 329.2,49.8 C328.6,48 327.5,46 326.7,43.2 Z" fill="#fff" stroke="#000" stroke-width="1.3" stroke-linejoin="miter"/>
<path d="M313.8,960.2 L331.4,967.9 L325.9,969.6 C328,973 329.5,976 329.8,978.1 C332,984 333.5,990 333.3,994 C333,999 332.5,1002 332,1004.5 C331.6,1008 330.8,1010 328.8,1010.3 C327,1010.3 326.5,1009 327,1007.8 C328.5,1003 329.3,999 329.5,995 C330.2,988 329,983 327.6,980.9 C326,977 324.5,974.5 323.4,972.6 L322.1,976.7 Z" fill="#fff" stroke="#000" stroke-width="1.3"/>
<path d="M714,48 L745,48 L750.5,44.5 L751.8,48.5 L767,48.5 L767.6,46.4 L769.6,46.4 L769.6,61.2 L767.6,61.2 L767,59 L751.8,59 L750.5,62.8 L745,59.5 L714,59.5 C711.6,59.5 710.6,56.5 710.6,53.7 C710.6,51 711.6,48 714,48 Z" fill="#fff" stroke="#000" stroke-width="1.7" stroke-linejoin="round"/>
<path d="M717,48.5 L713.5,53.7 L717,59 M723,48.5 L719,53.7 L723,59 M729,48.5 L725,53.7 L729,59 M735,48.5 L731,53.7 L735,59 M741,48.5 L737,53.7 L741,59" fill="none" stroke="#000" stroke-width="1.9"/>
<path d="M714,53.7 L744,53.7" stroke="#000" stroke-width="1.3"/>
<path d="M745,48 L745,59.5 M748,47 L748,60.5" stroke="#000" stroke-width="1.5"/>
<rect x="752.5" y="49.8" width="9" height="8" fill="#222"/><rect x="755" y="52" width="4" height="3.5" fill="#fff" opacity="0.6"/><rect x="762.5" y="50.3" width="4" height="7.2" fill="#fff" stroke="#000" stroke-width="0.8"/>
<path d="M709.5,82.5 L713,81.2 L774,86.8 L774,91.2 L713,85.6 Z" fill="#111" stroke="#000" stroke-width="0.8"/>
<path d="M773.5,86.2 L776.5,86.5 L776.5,91.8 L773.5,91.6 Z" fill="#fff" stroke="#000" stroke-width="1.2"/>
<path d="M715,81.38 L716.2,86.38 M717.7,81.63 L718.9,86.63 M720.4,81.88 L721.6,86.88 M723.1,82.13 L724.3,87.13 M725.8,82.38 L727,87.38 M728.5,82.62 L729.7,87.62 M731.2,82.87 L732.4,87.87 M733.9,83.12 L735.1,88.12 M736.6,83.37 L737.8,88.37 M739.3,83.61 L740.5,88.61 M742,83.86 L743.2,88.86 M744.7,84.11 L745.9,89.11 M747.4,84.36 L748.6,89.36 M750.1,84.61 L751.3,89.61 M752.8,84.85 L754,89.85 M755.5,85.1 L756.7,90.1 M758.2,85.35 L759.4,90.35 M760.9,85.6 L762.1,90.6 M763.6,85.85 L764.8,90.85 M766.3,86.09 L767.5,91.09 M769,86.34 L770.2,91.34 M771.7,86.59 L772.9,91.59" stroke="#777" stroke-width="0.6"/>
<g fill="#fff" stroke="#000" stroke-width="1.45" stroke-linejoin="round" stroke-linecap="round"><path d="M807.8,58.6 L822.8,62.2 L822.6,64.2 L807.6,60.8 Z" fill="#222" stroke-width="1"/><path d="M823,61.6 C825,60 826.5,59.4 828.1,59.1 L833.1,57.4 L843.5,58.5 L846,79.2 L844.6,78.6 L835.8,75.3 C831,74.5 828.5,73.6 827,72 C825,69 823.5,65 823,61.6 Z"/><path d="M828.6,59.2 C827,63 826.8,69 828.7,73.1 M839.7,59.4 C837.6,62 836.6,66 836.9,68.2 C837.1,72 838,75.5 839.1,78.1" fill="none" stroke-width="1.3"/><path d="M843.5,58.5 L856.2,59.1 L890.4,68.2 L892,83.9 L877.8,88 L868.9,86.3 L846.6,79.7 L845.2,63.2 Z"/><path d="M845.6,63.4 L849,62.4 L880.5,70.6 L890.4,68.2 M846.6,69.4 L878.2,77.6 M880.5,70.6 C878,73 877.2,77 877.6,80 C877.8,83 878,85.5 877.8,88 M878.2,78.6 L891.2,75.6 M856.2,59.1 L849,62.4" fill="none" stroke-width="1.3"/><path d="M868.9,86.3 L877.8,88 L892,83.9 L899.8,131 L880.8,128.2 L871.4,99.6 L869.7,100.4 L869.8,92.5 Z"/><path d="M870,87 L879.4,88.4 L881,94.6 L872.2,94.6 M871.4,99.6 L872.2,96.6 L887.5,99.3 L892.5,86 M882.9,99.6 L886.6,131 M889.3,100.2 L896.2,131" fill="none" stroke-width="1.2"/><path d="M867.5,132.2 L869.5,130.5 L878,128.6 L881,128.2 L899.8,131 L903.8,132.5 L903.8,157.2 L890.6,162 L867.5,158.5 Z"/><path d="M867.5,132.2 L890.6,136.2 L903.8,132.5 M890.6,136.2 L890.6,162 M873,130 L878,131.2 L881,128.2" fill="none" stroke-width="1.3"/><path d="M867.5,158.5 L890.6,162 L903.8,157.2" fill="none" stroke-width="2.3"/></g>
</svg>
</body></html>
